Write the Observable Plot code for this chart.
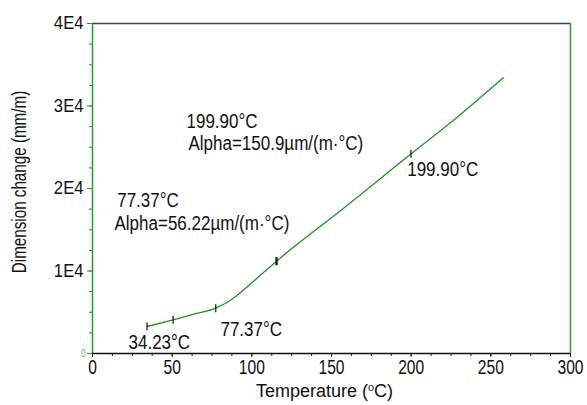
<!DOCTYPE html>
<html>
<head>
<meta charset="utf-8">
<script src="https://cdn.jsdelivr.net/npm/d3@7"></script>
<script src="https://cdn.jsdelivr.net/npm/@observablehq/plot@0.6"></script>
<style>
  html, body { margin: 0; padding: 0; background: #fff; }
  #chart svg { display: block; }
</style>
</head>
<body>
<div id="chart"></div>
<script>
// Curve readings: temperature (°C) vs dimension change (mm/m)
const temps = [34.3, 50.6, 62, 77.2, 85.4, 92.9, 103.4, 115.5, 124.3, 153.6, 200.0, 228.9, 257.8];
const dims  = [3273, 4085, 4680, 5491, 6303, 7394, 9152, 11188, 12606, 17006, 24206, 28642, 33418];

// Analysis markers on the curve
const markerT = [34.23, 50.6, 77.37, 115.5, 199.9];
const markerV = [3273, 4085, 5500, 11188, 24210];
const markerBold = [1.2, 1.2, 1.2, 2.2, 1.2];

// Text annotations
const annotText = ["199.90°C", "Alpha=150.9µm/(m·°C)", "77.37°C", "Alpha=56.22µm/(m·°C)", "34.23°C", "77.37°C", "199.90°C"];
const annotT = [59.0, 60.2, 15.5, 13.8, 22.6, 80.3, 197.5];
const annotV = [28170, 25442, 18594, 15806, 1382, 2958, 22267];

const xTicks = [0, 50, 100, 150, 200, 250, 300];
const yTicks = [10000, 20000, 30000, 40000];
const yTickLabels = ["1E4", "2E4", "3E4", "4E4"];
const xMinor = d3.range(0, 300.1, 12.5);
const yMinor = d3.range(0, 40001, 2500);
const yTitle = "Dimension change (mm/m)";
const xTitle = "Temperature (oC)";

const FONT = "'Liberation Sans', Arial, sans-serif";
const green = "#2a9a2a";

const vbar = {
  draw(context, size) {
    const r = Math.sqrt(size / Math.PI);
    context.moveTo(0, -r);
    context.lineTo(0, r);
  }
};

const data = temps.map((t, i) => ({t, v: dims[i]}));
const markers = markerT.map((t, i) => ({t, v: markerV[i], w: markerBold[i]}));
const annots = annotText.map((s, i) => ({s, t: annotT[i], v: annotV[i]}));

const chart = Plot.plot({
  width: 587,
  height: 405,
  marginLeft: 92,
  marginRight: 17,
  marginTop: 23,
  marginBottom: 52,
  style: {fontFamily: FONT, background: "#fff"},
  x: {domain: [0, 300]},
  y: {domain: [0, 40000]},
  marks: [
    // minor ticks
    Plot.axisX({ticks: xMinor, tickSize: 3, tickFormat: () => "", label: null, stroke: "#222"}),
    Plot.axisY({ticks: yMinor, tickSize: 3, tickFormat: () => "", label: null, stroke: "#3c7a3c"}),
    // major ticks and labels
    Plot.axisX({ticks: xTicks, tickSize: 4, tickPadding: 1.8, fontSize: 20, label: null, stroke: "#222", fill: "#111"}),
    Plot.axisY({ticks: yTicks, tickSize: 5, tickPadding: 4, fontSize: 18.5, label: null,
      tickFormat: d => yTickLabels[yTicks.indexOf(d)], stroke: "#3c8a3c", fill: "#111"}),
    Plot.axisY({ticks: [0], tickSize: 5, tickPadding: 2, fontSize: 10, label: null,
      tickFormat: () => "0", stroke: "#3c8a3c", fill: "#44bb44"}),
    // frame lines
    Plot.ruleY([40000], {stroke: "#444", strokeWidth: 1.5}),
    Plot.ruleX([300], {stroke: green, strokeWidth: 1.5}),
    Plot.ruleX([0], {stroke: green, strokeWidth: 1.5}),
    Plot.ruleY([0], {stroke: "#111", strokeWidth: 1.5}),
    // curve
    Plot.line(data, {x: "t", y: "v", stroke: "#1e951e", strokeWidth: 1.3, curve: "monotone-x"}),
    Plot.dot(markers, {x: "t", y: "v", symbol: vbar, r: 4, stroke: "#111", strokeWidth: "w"}),
    // annotations
    Plot.text(annots, {x: "t", y: "v", text: "s", textAnchor: "start", fontSize: 20, fill: "#111"}),
    // axis titles
    Plot.text([yTitle], {frameAnchor: "left", textAnchor: "middle", rotate: -90, dx: -73, dy: -6.5, fontSize: 20, fill: "#111"}),
    Plot.text([xTitle], {frameAnchor: "bottom", textAnchor: "middle", dy: 43.2, dx: -7, fontSize: 18, fill: "#111"})
  ]
});

document.getElementById("chart").append(chart);

// horizontal condensing of the glyphs (the reference font is narrow)
const xLabelSet = new Set(xTicks.map(String));
const yLabelSet = new Set(yTickLabels);
const annotSet = new Set(annotText);
function squeeze(el, f) {
  const len = el.getComputedTextLength();
  if (len > 0) {
    el.setAttribute("textLength", (len * f).toFixed(2));
    el.setAttribute("lengthAdjust", "spacingAndGlyphs");
  }
}
chart.querySelectorAll("text").forEach(el => {
  const s = el.textContent;
  if (el.querySelector("tspan")) return;
  if (xLabelSet.has(s)) squeeze(el, 0.78);
  else if (yLabelSet.has(s)) squeeze(el, 0.9);
  else if (annotSet.has(s)) squeeze(el, 0.85);
  else if (s === yTitle) squeeze(el, 0.76);
});

// superscript "o" in the x-axis title
chart.querySelectorAll("text").forEach(el => {
  if (el.textContent === xTitle) {
    const ns = "http://www.w3.org/2000/svg";
    el.textContent = "";
    const a = document.createElementNS(ns, "tspan"); a.textContent = "Temperature (";
    const b = document.createElementNS(ns, "tspan"); b.textContent = "o"; b.setAttribute("font-size", "11"); b.setAttribute("dy", "-6");
    const c = document.createElementNS(ns, "tspan"); c.textContent = "C)"; c.setAttribute("dy", "6");
    el.append(a, b, c);
  }
});
</script>
</body>
</html>
